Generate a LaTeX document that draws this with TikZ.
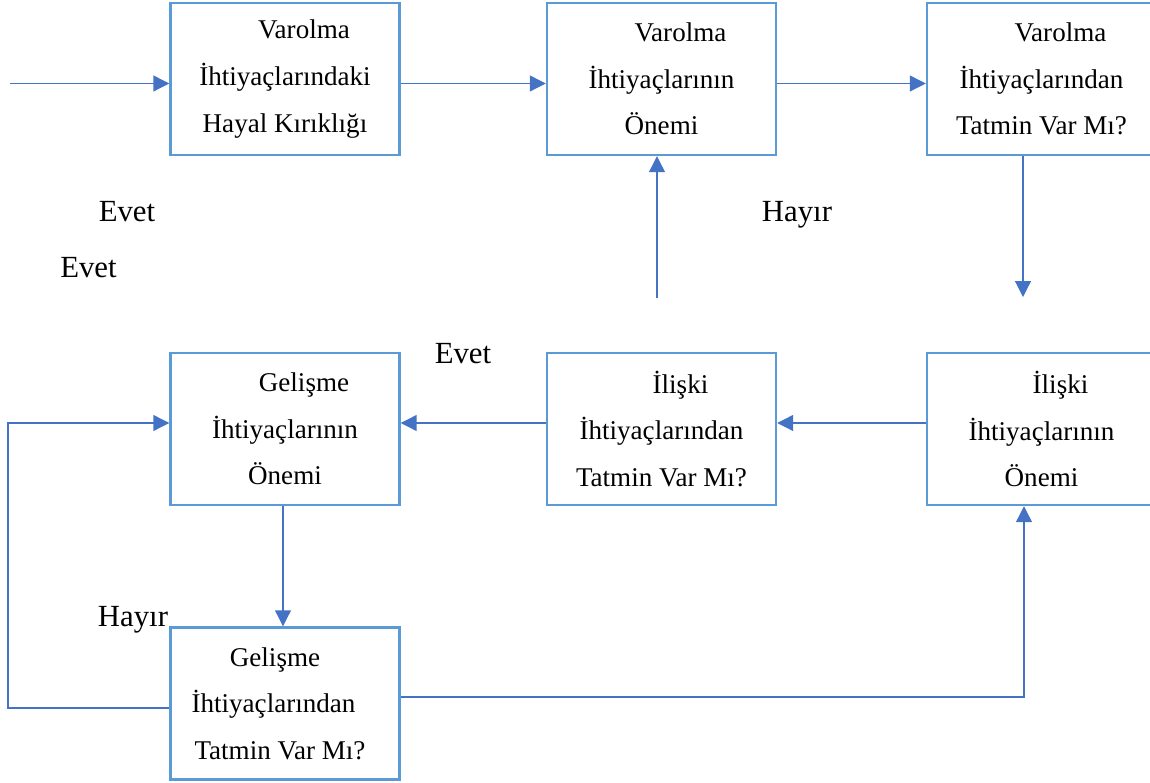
\documentclass[tikz,border=0pt]{standalone}
\usepackage{fontspec}
\setmainfont{Liberation Serif}
\usetikzlibrary{arrows.meta,positioning}

\definecolor{kutuMavi}{RGB}{91,155,213}
\definecolor{okMavi}{RGB}{68,114,196}

% erste Zeile im Kasten leicht eingerueckt
\newcommand{\girinti}{\hspace*{0.76cm}}
\newcommand{\sola}[1]{\hspace*{-#1}}

\begin{document}
\begin{tikzpicture}[
    kutu/.style={draw=kutuMavi, line width=1.4pt, fill=white,
      minimum width=4.58cm, minimum height=3.04cm, inner sep=0pt,
      align=center, font=\fontsize{15.4}{26.5}\selectfont},
    ok/.style={draw=okMavi, line width=0.7pt,
      -{Triangle[length=9pt,width=9pt]}},
    etiket/.style={anchor=base, inner sep=0pt,
      font=\fontsize{17.5}{20}\selectfont},
  ]
\useasboundingbox (0,0) rectangle (23,15.64);

% Kaesten
\node[kutu] (A) at (5.70,14.06) {\girinti Varolma\\İhtiyaçlarındaki\\Hayal Kırıklığı};
\node[kutu] (B) at (13.23,14.06) {\girinti Varolma\\İhtiyaçlarının\\Önemi};
\node[kutu] (C) at (20.83,14.06) {\girinti Varolma\\İhtiyaçlarından\\Tatmin Var Mı?};

\node[kutu] (D) at (5.70,7.06) {\girinti Gelişme\\İhtiyaçlarının\\Önemi};
\node[kutu] (E) at (13.23,7.06) {\girinti İlişki\\İhtiyaçlarından\\Tatmin Var Mı?};
\node[kutu] (F) at (20.83,7.06) {\girinti İlişki\\İhtiyaçlarının\\Önemi};

\node[kutu] (G) at (5.70,1.57) {\sola{0.4cm}Gelişme\\\sola{0.46cm}İhtiyaçlarından\\\sola{0.2cm}Tatmin Var Mı?};

% Hilfspunkte
\coordinate (giris) at (0.2,13.97);
\coordinate (r2) at (0,7.18);
\coordinate (cAlt) at (20.46,9.70);
\coordinate (bAlt) at (13.14,9.68);
\coordinate (dg) at (5.66,0);
\coordinate (solX) at (0.16,1.48);
\coordinate (sagX) at (20.48,1.70);

% Pfeile
\draw[ok] (giris) -- (A.west |- giris);
\draw[ok] (A.east |- giris) -- (B.west |- giris);
\draw[ok] (B.east |- giris) -- (C.west |- giris);
\draw[ok] (C.south -| cAlt) -- (cAlt);
\draw[ok] (bAlt) -- (bAlt |- B.south);

\draw[ok] (F.west |- r2) -- (E.east |- r2);
\draw[ok] (E.west |- r2) -- (D.east |- r2);
\draw[ok] (D.south -| dg) -- (G.north -| dg);
\draw[ok] (G.west |- solX) -- (solX) |- (D.west |- r2);
\draw[ok] (G.east |- sagX) -| (F.south -| sagX);

% Beschriftungen
\node[etiket] (evet1) at (2.54,11.20) {Evet};
\node[etiket] (evet2) at (1.77,10.09) {Evet};
\node[etiket] (hayir1) at (15.94,11.20) {Hayır};
\node[etiket] (evet3) at (9.26,8.36) {Evet};
\node[etiket] (hayir2) at (2.66,3.10) {Hayır};

\end{tikzpicture}
\end{document}
